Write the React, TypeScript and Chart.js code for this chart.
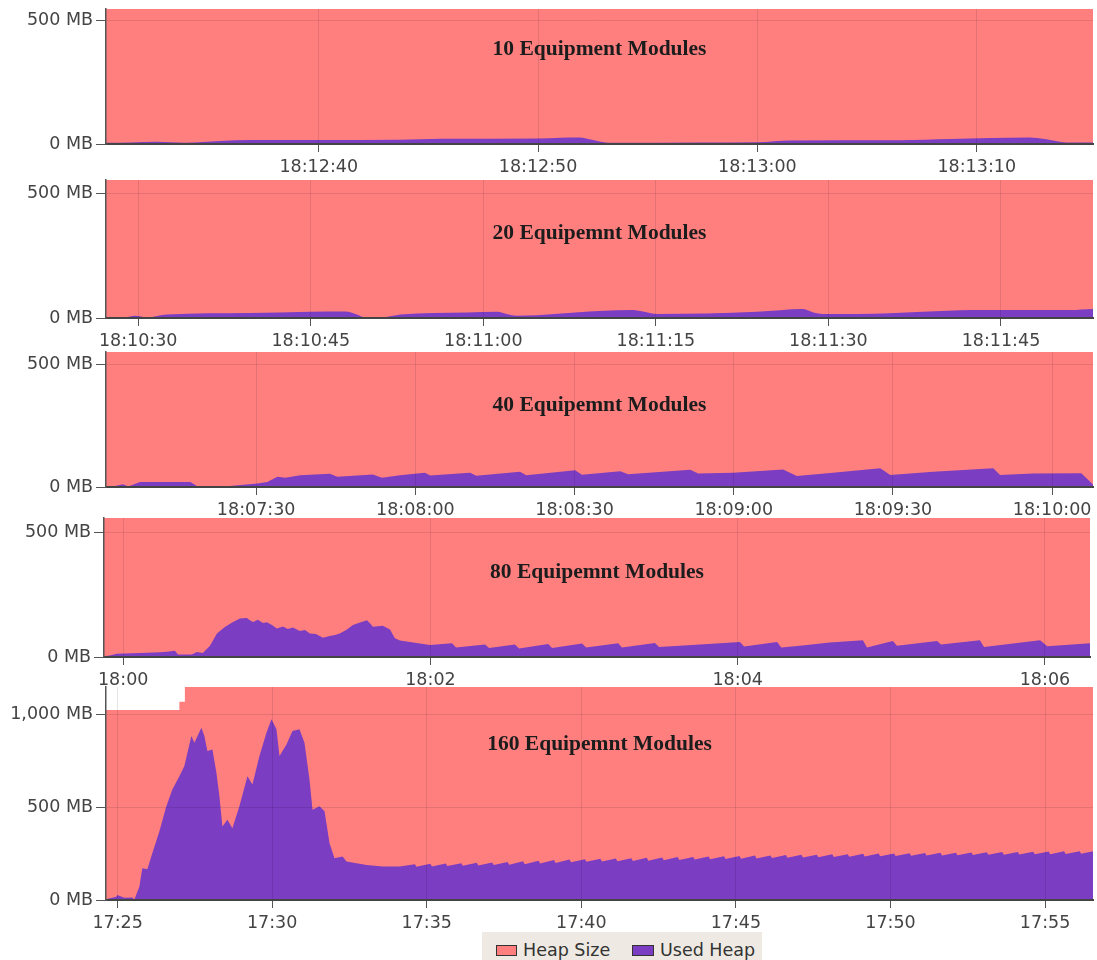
import React, { useEffect, useRef } from "react";
import { Chart, registerables } from "chart.js";

Chart.register(...registerables);

const HEAP_COLOR = "#FF7F7F";
const USED_COLOR = "#7B3DC2";
const LEGEND_LABELS = ["Heap Size", "Used Heap"];

// ---------- Panel 1: 10 modules ----------
const p1Title = "10 Equipment Modules";
const p1Start = "18:12:30";
const p1Seconds = [0.3, 1.4, 2.6, 3.9, 5.5, 6.9, 10, 13.7, 15.6, 20, 21, 21.9, 22.4, 23.2, 27.4, 30, 31.5, 36.5, 38.8, 40.6, 42.4, 43.1, 44.1, 45.3];
const p1Used = [5, 6, 9, 5, 12, 16, 16, 17, 21, 22, 25, 26, 18, 5, 6, 7, 14, 15, 20, 24, 26, 20, 6, 6];
const p1HeapSeconds = [0.3, 45.3];
const p1Heap = [547, 547];
const p1XTicks = ["18:12:40", "18:12:50", "18:13:00", "18:13:10"];
const p1YTicks = [0, 500];

// ---------- Panel 2: 20 modules ----------
const p2Title = "20 Equipemnt Modules";
const p2Start = "18:10:30";
const p2Seconds = [-2.8, -1.1, -0.3, 0.8, 2.5, 9.7, 14.9, 18, 19, 19.7, 21.3, 22.8, 28.6, 31.2, 32.1, 32.9, 40.1, 43, 44, 45.1, 53.8, 57.8, 58.7, 59.5, 62.5, 68.2, 72.5, 81, 83];
const p2Used = [2, 3, 9, 2, 14, 20, 25, 26, 14, 3, 3, 14, 22, 25, 15, 9, 28, 32, 25, 16, 25, 36, 22, 16, 16, 25, 32, 32, 36];
const p2HeapSeconds = [-2.8, 83];
const p2Heap = [556, 556];
const p2XTicks = ["18:10:30", "18:10:45", "18:11:00", "18:11:15", "18:11:30", "18:11:45"];
const p2YTicks = [0, 500];

// ---------- Panel 3: 40 modules ----------
const p3Title = "40 Equipemnt Modules";
const p3Start = "18:07:30";
const p3Seconds = [-28.3, -26.6, -25.1, -24.1, -21.9, -12.4, -11.1, -5.5, 0.2, 2.1, 4.0, 5.5, 8.3, 13.9, 15.3, 22, 23.7, 27.1, 31.8, 32.8, 40.3, 41.5, 49.7, 50.9, 60.1, 61.4, 68.6, 70.1, 81.8, 83.3, 89.9, 99.3, 101.9, 108.7, 117.6, 119.5, 127.6, 138.9, 140.2, 146.4, 155.5, 157.7];
const p3Used = [3, 4, 11, 2, 20, 20, 3, 3, 14, 20, 42, 38, 48, 54, 42, 51, 38, 48, 58, 47, 58, 46, 62, 48, 68, 50, 64, 52, 70, 55, 58, 71, 45, 58, 76, 49, 62, 76, 49, 55, 56, 10];
const p3HeapSeconds = [-28.3, 157.7];
const p3Heap = [550, 550];
const p3XTicks = ["18:07:30", "18:08:00", "18:08:30", "18:09:00", "18:09:30", "18:10:00"];
const p3YTicks = [0, 500];

// ---------- Panel 4: 80 modules ----------
const p4Title = "80 Equipemnt Modules";
const p4Start = "18:00:00";
const p4Seconds = [-7.5, -5.2, -2.5, 6.5, 14.3, 17.1, 20.2, 21.4, 26.8, 28.8, 31.1, 33.9, 36.6, 39.7, 42.9, 45.6, 48.3, 49.5, 50.7, 52.6, 54.6, 56.1, 58.1, 60, 62.4, 64.3, 66.3, 69, 71, 72.9, 75.3, 78, 80.7, 82.7, 84.6, 87.4, 89.7, 92.5, 95.2, 96.4, 97.5, 101.4, 104.2, 106.1, 108.1, 119.8, 128.4, 130, 141.3, 142.9, 153, 154.6, 166, 167.5, 179.2, 180.8, 193.3, 194.8, 207.7, 209.3, 225.3, 240.9, 242.5, 255.4, 257, 264.3, 276, 288.9, 290.5, 300.6, 302.2, 317.9, 319.4, 334.6, 336.2, 358.1, 360.9, 377.6];
const p4Used = [3, 6, 13, 16, 19, 21, 25, 10, 10, 20, 16, 45, 94, 120, 141, 155, 157, 148, 141, 150, 136, 140, 128, 114, 122, 112, 118, 104, 108, 94, 92, 77, 84, 88, 94, 110, 128, 138, 148, 135, 121, 125, 110, 75, 66, 48, 55, 38, 50, 36, 50, 34, 52, 36, 54, 38, 55, 38, 56, 40, 50, 60, 42, 60, 38, 45, 58, 67, 38, 64, 45, 64, 50, 67, 40, 67, 43, 55];
const p4HeapSeconds = [-7.5, 377.6];
const p4Heap = [558, 558];
const p4XTicks = ["18:00", "18:02", "18:04", "18:06"];
const p4YTicks = [0, 500];

// ---------- Panel 5: 160 modules ----------
const p5Title = "160 Equipemnt Modules";
const p5Start = "17:25:00";
const p5Seconds = [-22.5, -2.5, -0.6, 13, 28.6, 32.4, 42.2, 48, 57.7, 67.4, 81, 94.6, 106.3, 119.9, 129.6, 143.2, 149, 162.6, 168.4, 174.3, 184, 191.8, 197.6, 203.4, 213.1, 222.8, 236.4, 252, 261.7, 275.3, 288.9, 298.6, 308.3, 314.2, 327.8, 339.4, 353, 362.7, 372.4, 378.3, 391.9, 401.6, 411.3, 421, 436.6, 444.3, 483.2, 514.3, 547.3,
  577, 580, 607, 610, 637, 640, 667, 670, 697, 700, 727, 730, 757, 760, 787, 790, 817, 820, 847, 850,
  877, 880, 907, 910, 937, 940, 967, 970, 997, 1000, 1027, 1030, 1057, 1060, 1087, 1090, 1117, 1120, 1147, 1150,
  1177, 1180, 1207, 1210, 1237, 1240, 1267, 1270, 1297, 1300, 1327, 1330, 1357, 1360, 1387, 1390, 1417, 1420, 1447, 1450,
  1477, 1480, 1507, 1510, 1537, 1540, 1567, 1570, 1597, 1600, 1627, 1630, 1657, 1660, 1687, 1690, 1717, 1720, 1747, 1750,
  1777, 1780, 1807, 1810, 1837, 1840, 1867, 1870, 1893];
const p5Used = [4, 18, 27, 12, 14, 2, 72, 171, 165, 252, 369, 505, 595, 667, 721, 883, 847, 928, 883, 802, 811, 685, 559, 396, 432, 387, 505, 667, 622, 775, 901, 973, 919, 775, 838, 910, 919, 847, 649, 486, 505, 478, 306, 225, 234, 207, 189, 180, 180,
  193, 179, 195, 181, 197, 183, 198, 185, 200, 186, 202, 188, 205, 190, 208, 193, 211, 196, 215, 199,
  218, 203, 220, 206, 222, 207, 223, 209, 225, 210, 227, 212, 229, 214, 231, 216, 232, 218, 234, 219,
  235, 221, 237, 222, 239, 224, 240, 226, 242, 227, 243, 229, 244, 230, 246, 231, 247, 233, 249, 234,
  250, 236, 251, 237, 252, 238, 253, 239, 254, 240, 255, 241, 256, 242, 257, 243, 258, 244, 259, 245,
  260, 246, 261, 247, 262, 248, 263, 249, 262];
const p5HeapSeconds = [-22.5, 119.9, 130.6, 1893];
const p5Heap = [1023, 1068, 1150, 1150];
const p5XTicks = ["17:25", "17:30", "17:35", "17:40", "17:45", "17:50", "17:55"];
const p5YTicks = [0, 500, 1000];

type PanelCfg = {
  title: string;
  start: string;
  seconds: number[];
  used: number[];
  heapSeconds: number[];
  heap: number[];
  xTicks: string[];
  yTicks: number[];
  yMax: number;
  top: number;
  bottom: number;
  left: number;
  right: number;
  titleOffset: number;
  tension: number;
  heapStepped: boolean;
};

const panels: PanelCfg[] = [
  { title: p1Title, start: p1Start, seconds: p1Seconds, used: p1Used, heapSeconds: p1HeapSeconds, heap: p1Heap, xTicks: p1XTicks, yTicks: p1YTicks, yMax: 547, top: 9, bottom: 144, left: 106, right: 1093, titleOffset: 40, tension: 0.4, heapStepped: false },
  { title: p2Title, start: p2Start, seconds: p2Seconds, used: p2Used, heapSeconds: p2HeapSeconds, heap: p2Heap, xTicks: p2XTicks, yTicks: p2YTicks, yMax: 556, top: 180, bottom: 318, left: 106, right: 1093, titleOffset: 53, tension: 0.3, heapStepped: false },
  { title: p3Title, start: p3Start, seconds: p3Seconds, used: p3Used, heapSeconds: p3HeapSeconds, heap: p3Heap, xTicks: p3XTicks, yTicks: p3YTicks, yMax: 550, top: 352, bottom: 487, left: 106, right: 1093, titleOffset: 53, tension: 0, heapStepped: false },
  { title: p4Title, start: p4Start, seconds: p4Seconds, used: p4Used, heapSeconds: p4HeapSeconds, heap: p4Heap, xTicks: p4XTicks, yTicks: p4YTicks, yMax: 558, top: 518, bottom: 657, left: 104, right: 1090, titleOffset: 54, tension: 0, heapStepped: false },
  { title: p5Title, start: p5Start, seconds: p5Seconds, used: p5Used, heapSeconds: p5HeapSeconds, heap: p5Heap, xTicks: p5XTicks, yTicks: p5YTicks, yMax: 1147, top: 687, bottom: 900, left: 106, right: 1093, titleOffset: 57, tension: 0, heapStepped: true },
];

function toSec(s: string): number {
  const parts = s.split(":").map(Number);
  return parts[0] * 3600 + parts[1] * 60 + (parts[2] || 0);
}

const innerTitlePlugin = {
  id: "innerTitle",
  afterDraw(chart: any, _args: any, opts: any) {
    if (!opts || !opts.text) return;
    const { ctx, chartArea } = chart;
    ctx.save();
    ctx.font = "bold 21.5px 'Liberation Serif', 'Times New Roman', serif";
    ctx.fillStyle = "#1c1c1c";
    ctx.textAlign = "center";
    ctx.textBaseline = "middle";
    ctx.fillText(opts.text, (chartArea.left + chartArea.right) / 2, chartArea.top + opts.offset);
    ctx.restore();
  },
};

const TICK_FONT = { family: "'DejaVu Sans', sans-serif", size: 17.5 };
const PAD_TOP = 14;
const AXIS_H = 34;

function Panel({ p }: { p: PanelCfg }) {
  const ref = useRef<HTMLCanvasElement | null>(null);
  const h = PAD_TOP + (p.bottom - p.top) + AXIS_H;

  useEffect(() => {
    if (!ref.current) return;
    const base = toSec(p.start);
    const used = p.seconds.map((s, i) => ({ x: base + s, y: p.used[i] }));
    const heap = p.heapSeconds.map((s, i) => ({ x: base + s, y: p.heap[i] }));
    const xTickVals = p.xTicks.map(toSec);

    const chart = new Chart(ref.current, {
      type: "line",
      data: {
        datasets: [
          {
            label: LEGEND_LABELS[0],
            data: heap,
            order: 1,
            fill: "origin",
            backgroundColor: HEAP_COLOR,
            borderColor: HEAP_COLOR,
            borderWidth: 0,
            pointRadius: 0,
            stepped: p.heapStepped ? "before" : false,
          } as any,
          {
            label: LEGEND_LABELS[1],
            data: used,
            order: 0,
            fill: "origin",
            backgroundColor: USED_COLOR,
            borderColor: USED_COLOR,
            borderWidth: 0,
            pointRadius: 0,
            tension: p.tension,
            cubicInterpolationMode: p.tension ? "monotone" : "default",
          } as any,
        ],
      },
      options: {
        responsive: false,
        animation: false,
        events: [],
        layout: { padding: { left: 0, right: 1097 - p.right, top: PAD_TOP, bottom: 0 } },
        plugins: {
          legend: { display: false },
          tooltip: { enabled: false },
          innerTitle: { text: p.title, offset: p.titleOffset },
        } as any,
        scales: {
          x: {
            type: "linear",
            min: base + p.seconds[0],
            max: base + p.seconds[p.seconds.length - 1],
            afterBuildTicks: (s: any) => {
              s.ticks = xTickVals.map((v) => ({ value: v }));
            },
            afterFit: (s: any) => {
              s.height = AXIS_H;
            },
            ticks: {
              autoSkip: false,
              maxRotation: 0,
              padding: 5,
              color: "#444",
              font: TICK_FONT,
              callback: (v: any) => p.xTicks[xTickVals.indexOf(Number(v))],
            },
            grid: { color: "rgba(0,0,0,0.1)", z: 1, tickLength: 8, tickColor: "#555", lineWidth: 1 },
            border: { color: "#444", width: 2, z: 2 },
          } as any,
          y: {
            type: "linear",
            min: 0,
            max: p.yMax,
            afterBuildTicks: (s: any) => {
              s.ticks = p.yTicks.map((v) => ({ value: v }));
            },
            afterFit: (s: any) => {
              s.width = p.left;
            },
            ticks: {
              padding: 3,
              color: "#444",
              font: TICK_FONT,
              callback: (v: any) => `${Number(v).toLocaleString("en-US")} MB`,
            },
            grid: { color: "rgba(0,0,0,0.1)", z: 1, tickLength: 10, tickColor: "#555", lineWidth: 1 },
            border: { color: "#555", width: 1.5, z: 2 },
          } as any,
        },
      },
      plugins: [innerTitlePlugin as any],
    });
    return () => chart.destroy();
  }, []);

  return (
    <canvas
      ref={ref}
      width={1097}
      height={h}
      style={{ position: "absolute", left: 0, top: p.top - PAD_TOP, width: 1097, height: h, display: "block" }}
    />
  );
}

function Legend() {
  const textStyle: React.CSSProperties = {
    position: "absolute",
    top: 8,
    font: "17.5px 'DejaVu Sans', sans-serif",
    lineHeight: "20px",
    color: "#333",
    whiteSpace: "nowrap",
  };
  const sw: React.CSSProperties = {
    position: "absolute",
    top: 13,
    height: 11,
    boxSizing: "border-box",
    border: "1.5px solid #333",
  };
  return (
    <div style={{ position: "absolute", left: 482, top: 932, width: 280, height: 28, background: "#EEEAE3" }}>
      <span style={{ ...sw, left: 14, width: 21, background: HEAP_COLOR }} />
      <span style={{ ...textStyle, left: 41 }}>{LEGEND_LABELS[0]}</span>
      <span style={{ ...sw, left: 150, width: 22, background: USED_COLOR }} />
      <span style={{ ...textStyle, left: 178 }}>{LEGEND_LABELS[1]}</span>
    </div>
  );
}

export default function App() {
  return (
    <div style={{ position: "absolute", left: 0, top: 0, width: 1097, height: 960, background: "#fff", overflow: "hidden" }}>
      {panels.map((p, i) => (
        <Panel key={i} p={p} />
      ))}
      <Legend />
    </div>
  );
}
